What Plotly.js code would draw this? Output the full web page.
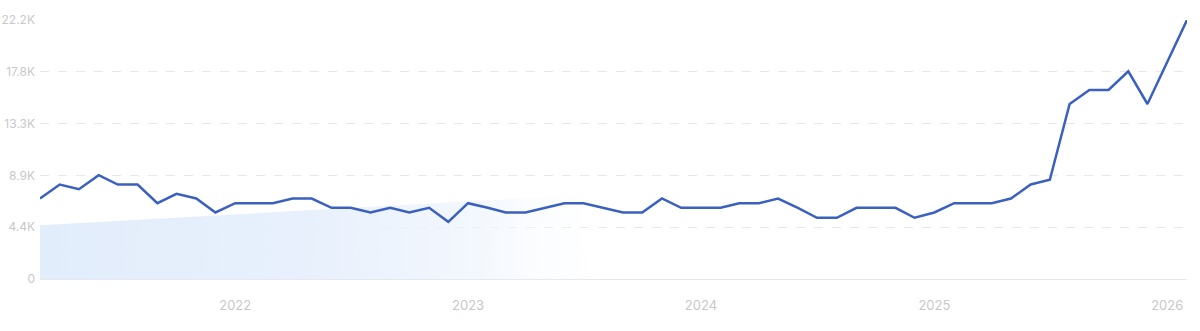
<!DOCTYPE html>
<html>
<head>
<meta charset="utf-8">
<script src="https://cdn.plot.ly/plotly-3.0.1.min.js"></script>
<style>
html,body{margin:0;padding:0;background:#fff;}
#chart{width:1200px;height:331px;}
</style>
</head>
<body>
<div id="chart"></div>
<script>
const months = [
  "2021-03-01","2021-04-01","2021-05-01","2021-06-01","2021-07-01","2021-08-01","2021-09-01","2021-10-01","2021-11-01","2021-12-01",
  "2022-01-01","2022-02-01","2022-03-01","2022-04-01","2022-05-01","2022-06-01","2022-07-01","2022-08-01","2022-09-01","2022-10-01","2022-11-01","2022-12-01",
  "2023-01-01","2023-02-01","2023-03-01","2023-04-01","2023-05-01","2023-06-01","2023-07-01","2023-08-01","2023-09-01","2023-10-01","2023-11-01","2023-12-01",
  "2024-01-01","2024-02-01","2024-03-01","2024-04-01","2024-05-01","2024-06-01","2024-07-01","2024-08-01","2024-09-01","2024-10-01","2024-11-01","2024-12-01",
  "2025-01-01","2025-02-01","2025-03-01","2025-04-01","2025-05-01","2025-06-01","2025-07-01","2025-08-01","2025-09-01","2025-10-01","2025-11-01","2025-12-01",
  "2026-01-01","2026-02-01"
];
const searches = [
  6900, 8100, 7700, 8900, 8100, 8100, 6500, 7300, 6900, 5700,
  6500, 6500, 6500, 6900, 6900, 6100, 6100, 5700, 6100, 5700, 6100, 4900,
  6500, 6100, 5700, 5700, 6100, 6500, 6500, 6100, 5700, 5700,
  6900, 6100, 6100, 6100, 6500, 6500, 6900, 6100, 5250, 5250, 6100, 6100,
  6100, 5250, 5700, 6500, 6500, 6500, 6900, 8100, 8500, 15000, 16200, 16200, 17800, 15000,
  18600, 22200
];
const trendDates = ["2021-03-01", "2023-09-01"];
const trendValues = [4600, 7400];
const yTickVals = [0, 4440, 8880, 13320, 17760, 22200];
const yTickText = ["0", "4.4K", "8.9K", "13.3K", "17.8K", "22.2K"];
const xTickVals = ["2022-01-01", "2023-01-01", "2024-01-01", "2025-01-01", "2026-01-01"];
const xTickText = ["2022", "2023", "2024", "2025", "2026"];

const traces = [
  {
    x: trendDates, y: trendValues, type: "scatter", mode: "lines",
    line: {width: 0, color: "rgba(0,0,0,0)"},
    fill: "tozeroy",
    fillgradient: {
      type: "horizontal",
      colorscale: [[0, "rgba(226,237,251,1)"], [0.45, "rgba(230,239,252,0.95)"], [0.75, "rgba(238,244,253,0.7)"], [1, "rgba(255,255,255,0)"]]
    },
    hoverinfo: "skip", showlegend: false
  },
  {
    x: months, y: searches, type: "scatter", mode: "lines",
    line: {color: "#3a60c0", width: 2.5, shape: "linear"},
    showlegend: false
  }
];

const layout = {
  width: 1200, height: 331,
  margin: {l: 40, r: 13, t: 20, b: 52},
  paper_bgcolor: "#ffffff", plot_bgcolor: "#ffffff",
  font: {family: "Inter, Roboto, sans-serif", color: "#c8c8c8", size: 12},
  xaxis: {
    type: "date",
    range: ["2021-03-01", "2026-02-01"],
    tickvals: xTickVals, ticktext: xTickText,
    showgrid: false, zeroline: false,
    showline: false,
    ticks: "", ticklabelstandoff: 17,
    tickfont: {size: 13, color: "#c8c8c8"},
    fixedrange: true
  },
  yaxis: {
    range: [0, 22200],
    tickvals: yTickVals, ticktext: yTickText,
    showgrid: true, gridcolor: "#e8e8e8", griddash: "dash", gridwidth: 1,
    zeroline: true, zerolinecolor: "#e4e9f0", zerolinewidth: 1,
    showline: false, ticks: "", ticklabelstandoff: 4,
    tickfont: {size: 12, color: "#c8c8c8"},
    fixedrange: true
  },
  showlegend: false
};

Plotly.newPlot("chart", traces, layout, {displayModeBar: false, staticPlot: true});
</script>
</body>
</html>
